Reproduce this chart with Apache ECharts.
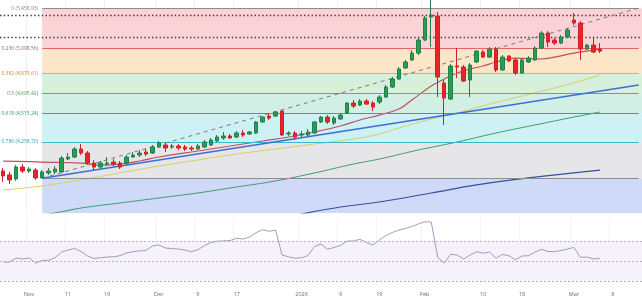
<!DOCTYPE html>
<html>
<head>
<meta charset="utf-8">
<title>XAU/USD daily</title>
<script src="https://cdn.jsdelivr.net/npm/echarts@6/dist/echarts.min.js"></script>
<style>
  html, body { margin: 0; padding: 0; background: #fff; }
  #chart { width: 642px; height: 300px; }
</style>
</head>
<body>
<div id="chart"></div>
<script>
// trading days, Oct 28 2025 .. Mar 16 2026 (last slots are empty space on the right)
const dates = [
  '10-28', '10-29', '10-30', '10-31',
  '11-03', '11-04', '11-05', '11-06', '11-07', '11-10', '11-11', '11-12', '11-13', '11-14',
  '11-17', '11-18', '11-19', '11-20', '11-21', '11-24', '11-25', '11-26', '11-27', '11-28',
  '12-01', '12-02', '12-03', '12-04', '12-05', '12-08', '12-09', '12-10', '12-11', '12-12',
  '12-15', '12-16', '12-17', '12-18', '12-19', '12-22', '12-23', '12-24', '12-26', '12-29',
  '12-30', '12-31', '01-01', '01-02', '01-05', '01-06', '01-07', '01-08', '01-09', '01-12',
  '01-13', '01-14', '01-15', '01-16', '01-19', '01-20', '01-21', '01-22', '01-23', '01-26',
  '01-27', '01-28', '01-29', '01-30', '02-02', '02-03', '02-04', '02-05', '02-06', '02-09',
  '02-10', '02-11', '02-12', '02-13', '02-16', '02-17', '02-18', '02-19', '02-20', '02-23',
  '02-24', '02-25', '02-26', '02-27', '03-02', '03-03', '03-04', '03-05', '03-06', '03-09',
  '03-10', '03-11', '03-12', '03-13', '03-16'
]

// axis labels shown under the chart
const tickDates = ['11-03', '11-11', '11-19', '12-01', '12-09', '12-17', '01-01', '01-09', '01-19', '01-28', '02-10', '02-18', '03-02', '03-10']
const tickTexts = ['Nov', '11', '19', 'Dec', '9', '17', '2026', '9', '19', 'Feb', '10', '18', 'Mar', '8']

// [open, close, low, high]
const candles = [
  [3997, 3953, 3899, 4024], [3962, 3917, 3881, 3989], [3926, 4033, 3908, 4051], [4033, 3997, 3980, 4060],
  [3997, 4015, 3980, 4033], [4006, 3935, 3917, 4024], [3935, 3989, 3932, 4006], [3980, 3997, 3962, 4024],
  [3989, 4015, 3971, 4042], [3989, 4114, 3980, 4132], [4105, 4123, 4096, 4159], [4123, 4195, 4114, 4213],
  [4195, 4159, 4141, 4240], [4159, 4069, 4051, 4177], [4069, 4033, 4006, 4096], [4033, 4069, 4015, 4087],
  [4060, 4069, 4042, 4123], [4078, 4060, 4042, 4105], [4069, 4033, 4015, 4087], [4069, 4123, 4051, 4141],
  [4123, 4141, 4114, 4168], [4141, 4159, 4123, 4186], [4168, 4150, 4132, 4195], [4159, 4213, 4150, 4231],
  [4213, 4249, 4204, 4267], [4231, 4204, 4168, 4258], [4213, 4222, 4195, 4240], [4222, 4204, 4186, 4240],
  [4213, 4195, 4177, 4231], [4204, 4195, 4177, 4222], [4195, 4222, 4186, 4240], [4213, 4258, 4204, 4276],
  [4231, 4276, 4222, 4294], [4267, 4303, 4258, 4321], [4294, 4312, 4276, 4348], [4312, 4294, 4285, 4330],
  [4303, 4339, 4294, 4357], [4339, 4321, 4303, 4366], [4330, 4348, 4321, 4357], [4339, 4438, 4330, 4447],
  [4438, 4482, 4429, 4491], [4491, 4473, 4456, 4518], [4491, 4527, 4482, 4536], [4536, 4321, 4312, 4545],
  [4330, 4339, 4312, 4357], [4339, 4303, 4276, 4357], [4321, 4330, 4303, 4357], [4321, 4348, 4312, 4375],
  [4339, 4438, 4330, 4447], [4438, 4482, 4429, 4491], [4482, 4438, 4420, 4500], [4429, 4473, 4411, 4491],
  [4465, 4500, 4456, 4518], [4518, 4608, 4509, 4617], [4608, 4581, 4563, 4635], [4590, 4626, 4581, 4644],
  [4626, 4599, 4590, 4644], [4608, 4572, 4536, 4626], [4617, 4662, 4599, 4680], [4662, 4752, 4653, 4770],
  [4752, 4824, 4743, 4842], [4824, 4914, 4815, 4932], [4923, 4977, 4914, 4995], [4995, 5057, 4986, 5084],
  [5057, 5174, 5039, 5192], [5174, 5372, 5165, 5390], [5381, 5399, 5111, 5598], [5390, 4842, 4662, 5426],
  [4788, 4653, 4411, 4815], [4644, 4941, 4635, 4959], [4941, 4932, 4833, 5102], [4932, 4806, 4797, 4950],
  [4815, 4950, 4662, 4968], [4977, 5075, 4968, 5084], [5066, 5021, 5012, 5084], [5021, 5093, 5012, 5111],
  [5093, 4905, 4887, 5111], [4905, 5021, 4896, 5039], [5030, 4986, 4977, 5039], [4995, 4878, 4860, 5012],
  [4878, 4995, 4869, 5012], [4977, 5012, 4968, 5030], [4995, 5102, 4986, 5120], [5102, 5237, 5093, 5255],
  [5237, 5156, 5111, 5255], [5174, 5147, 5129, 5192], [5147, 5201, 5138, 5219], [5201, 5264, 5192, 5282],
  [5354, 5327, 5309, 5417], [5327, 5093, 4995, 5345], [5093, 5129, 5084, 5138], [5129, 5066, 5057, 5201],
  [5093, 5075, 5057, 5147]
]

// moving averages, [day index, price]
const smaFast = [
  [0, 4087], [6, 4078], [12, 4069], [15, 4051], [18, 4060], [21, 4087], [24, 4123], [30, 4177],
  [36, 4231], [40, 4267], [44, 4303], [48, 4348], [52, 4402], [55, 4456], [58, 4500], [61, 4554],
  [63, 4635], [66, 4761], [68, 4824], [70, 4878], [72, 4914], [74, 4941], [76, 4977], [79, 5012],
  [83, 5004], [85, 5021], [88, 5057], [91, 5084], [92, 5093]
]
const smaMid = [
  [0, 3827], [6, 3863], [12, 3917], [18, 3980], [24, 4042], [30, 4096], [36, 4150], [42, 4195],
  [48, 4240], [54, 4285], [58, 4330], [61, 4384], [66, 4465], [70, 4518], [75, 4599], [80, 4671],
  [85, 4743], [89, 4806], [92, 4860]
]
const smaSlow = [
  [0, 3539], [4, 3584], [8, 3620], [12, 3665], [18, 3710], [24, 3755], [30, 3800], [36, 3854],
  [42, 3908], [48, 3980], [54, 4060], [58, 4105], [64, 4186], [70, 4258], [76, 4339], [82, 4411],
  [88, 4482], [92, 4527]
]
const smaLong = [
  [40, 3539], [46, 3611], [52, 3674], [58, 3719], [66, 3800], [73, 3872], [81, 3935], [92, 4006]
]

// trend lines from the Nov swing low, [day index, price]
const trendBlue = [[6, 3932], [98, 4770]]
const trendDashed = [[6, 3932], [98, 5462]]

// fibonacci retracement
const fibStart = 6
const fibRatios = [0, 0.236, 0.382, 0.5, 0.618, 0.786, 1]
const fibPrices = [5458.93, 5098.56, 4875.61, 4695.42, 4515.24, 4258.70, 3931.90]
const levels = [5400, 5200]

const rsi = [
  49, 49, 53, 52, 53, 48, 50.5, 50.7, 53.4, 59,
  61, 62.5, 59.5, 55, 52.5, 53.3, 54, 54.2, 55.3, 58,
  59.3, 60.2, 60.5, 65, 66, 63, 62.4, 62, 61, 59.3,
  61.2, 65.2, 68.5, 69.8, 70.1, 70.5, 72.6, 72, 74, 78.3,
  81.3, 79.7, 81, 56, 54.2, 52.7, 53.2, 55.5, 64.5, 67,
  61.7, 63.5, 65.5, 70, 70, 71.7, 68.5, 66, 71, 75.5,
  78.5, 81, 82.5, 84.5, 87, 89.3, 89, 53.6, 48, 56.7,
  56, 52, 56, 59.3, 57.8, 59, 52.8, 56.6, 55.2, 51.2,
  55, 55.3, 59, 61.7, 59.5, 59.3, 60.5, 62, 63.6, 53.7,
  54, 52, 52.7
]
const rsiLevels = [70, 50, 30]

const priceMin = 3620
const priceMax = 5534

// styles
const fibLineColors = ['#8d8d8d', '#e0646c', '#f0ac45', '#5cb06a', '#3aa487', '#3bb9c9', '#8c8c94']
const fibFillColors = ['#fbd2d6', '#fde5c8', '#d6f0dc', '#d2efe5', '#cdf1f5', '#e6e6e9', '#cfdaf8']
const fibTextColors = ['#8a8a8a', '#9a6a6a', '#c48a2a', '#4c9a5c', '#2a9684', '#2aa0b4']

const chart = echarts.init(document.getElementById('chart'))

const showTick = (index, value) => tickDates.indexOf(value) !== -1
const fmtPrice = p => p.toLocaleString('en-US', { minimumFractionDigits: 2, maximumFractionDigits: 2 })

const fibAreas = fibPrices.map((p, k) => [
  { xAxis: fibStart, yAxis: p, itemStyle: { color: fibFillColors[k] } },
  { yAxis: k < fibPrices.length - 1 ? fibPrices[k + 1] : priceMin }
])

const fibLines = fibPrices.map((p, k) => [
  {
    coord: [fibStart, p],
    lineStyle: { color: fibLineColors[k], width: 1.2, type: 'solid' },
    label: {
      show: k < fibPrices.length - 1,
      position: 'start',
      distance: 4,
      padding: [0, 0, 7, 0],
      fontSize: 5,
      color: fibTextColors[k],
      formatter: fibRatios[k] + ' (' + fmtPrice(p) + ')'
    }
  },
  { coord: [dates.length - 1, p] }
])

const levelLines = levels.map(v => ({
  yAxis: v,
  lineStyle: { color: '#3a3a3a', width: 1.4, type: [1.4, 2.4] },
  label: { show: false }
}))

const trendLines = [
  [
    { coord: trendDashed[0], lineStyle: { color: '#7a7a7a', width: 1, type: [4, 4] } },
    { coord: trendDashed[1] }
  ],
  [
    { coord: trendBlue[0], lineStyle: { color: '#3c6fd6', width: 1.5, type: 'solid' } },
    { coord: trendBlue[1] }
  ]
]

const maSeries = (data, color, width) => ({
  type: 'line',
  data: data,
  xAxisIndex: 0,
  yAxisIndex: 0,
  smooth: 0.4,
  symbol: 'none',
  silent: true,
  lineStyle: { color: color, width: width },
  z: 3
})

chart.setOption({
  animation: false,
  textStyle: { fontFamily: 'Open Sans, Noto Sans, sans-serif' },
  grid: [
    { left: 0, right: 0, top: 0, height: 213 },
    { left: 0, right: 0, top: 217, height: 67 }
  ],
  xAxis: [
    {
      type: 'category',
      gridIndex: 0,
      data: dates,
      axisLine: { show: false },
      axisTick: { show: false },
      axisLabel: { show: false },
      splitLine: { show: true, interval: showTick, lineStyle: { color: 'rgba(90,90,90,0.08)', width: 1 } }
    },
    {
      type: 'category',
      gridIndex: 1,
      data: dates,
      axisLine: { show: false },
      axisTick: { show: false },
      axisLabel: {
        interval: showTick,
        fontSize: 5.5,
        color: '#6b6b6b',
        margin: 7,
        formatter: value => tickTexts[tickDates.indexOf(value)]
      },
      splitLine: { show: true, interval: showTick, lineStyle: { color: 'rgba(90,90,90,0.07)', width: 1 } }
    }
  ],
  yAxis: [
    {
      type: 'value',
      gridIndex: 0,
      min: priceMin,
      max: priceMax,
      show: false,
      splitLine: { show: false }
    },
    {
      type: 'value',
      gridIndex: 1,
      min: 27,
      max: 94,
      show: false,
      splitLine: { show: false }
    }
  ],
  series: [
    {
      type: 'candlestick',
      name: 'XAU/USD',
      data: candles,
      xAxisIndex: 0,
      yAxisIndex: 0,
      barWidth: 4,
      clip: true,
      itemStyle: {
        color: '#2a9a58',
        color0: '#e3262b',
        borderColor: '#23804a',
        borderColor0: '#d41f24',
        borderWidth: 1
      },
      z: 5,
      markArea: {
        silent: true,
        z: 1,
        data: fibAreas
      },
      markLine: {
        silent: true,
        symbol: 'none',
        animation: false,
        data: fibLines.concat(levelLines).concat(trendLines)
      }
    },
    maSeries(smaMid, '#d9cd6a', 1),
    maSeries(smaSlow, '#3f9b6e', 1),
    maSeries(smaLong, '#34509e', 1.2),
    maSeries(smaFast, '#c0505c', 1.2),
    {
      type: 'line',
      name: 'RSI',
      data: rsi,
      xAxisIndex: 1,
      yAxisIndex: 1,
      symbol: 'none',
      silent: true,
      lineStyle: { color: '#a29cbb', width: 1 },
      markArea: {
        silent: true,
        itemStyle: { color: '#f5f2fb' },
        data: [[{ yAxis: rsiLevels[0] }, { yAxis: rsiLevels[2] }]]
      },
      markLine: {
        silent: true,
        symbol: 'none',
        label: { show: false },
        lineStyle: { color: '#b6afca', width: 1, type: [2, 2] },
        data: rsiLevels.map(v => ({ yAxis: v }))
      }
    }
  ]
})
</script>
</body>
</html>
